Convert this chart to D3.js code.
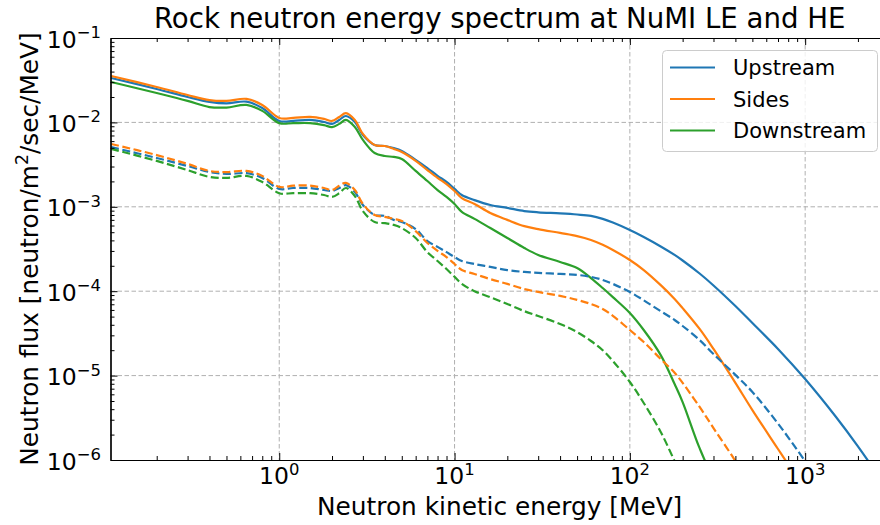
<!DOCTYPE html>
<html>
<head>
<meta charset="utf-8">
<script src="https://cdn.jsdelivr.net/npm/d3@7"></script>
<style>
  body { margin: 0; background: #fff; }
  svg { display: block; }
  text { font-family: "DejaVu Sans", sans-serif; fill: #000; }
</style>
</head>
<body>
<svg id="chart" width="880" height="525"></svg>
<script>
// Neutron kinetic energy grid [MeV]
const energies = [0.11, 0.2, 0.3, 0.4, 0.5, 0.65, 0.8,
  1.0, 1.2, 1.5, 1.8, 2.0, 2.2, 2.4, 2.7, 3.0, 3.5, 4.0, 4.5, 5, 6, 7, 8, 9,
  10, 11, 13, 16, 20, 25, 30, 40, 50, 60, 70, 80,
  100, 120, 150, 180, 200, 250, 300, 400, 500, 700,
  1000, 1500, 2000, 3000];

// Flux [neutron/m^2/sec/MeV], solid curves (HE)
const upstreamHE = [3.36e-2, 2.49e-2, 2.00e-2, 1.75e-2, 1.68e-2, 1.76e-2, 1.48e-2,
  1.04e-2, 1.04e-2, 1.07e-2, 1.01e-2, 9.6e-3, 1.07e-2, 1.19e-2, 1.01e-2, 7.1e-3, 5.4e-3, 5.25e-3, 4.97e-3, 4.6e-3, 3.6e-3, 2.88e-3, 2.33e-3, 1.97e-3,
  1.63e-3, 1.38e-3, 1.2e-3, 1.05e-3, 9.7e-4, 8.9e-4, 8.6e-4, 8.35e-4, 8.1e-4, 7.8e-4, 7.2e-4, 6.5e-4,
  5.31e-4, 4.39e-4, 3.39e-4, 2.69e-4, 2.31e-4, 1.62e-4, 1.17e-4, 6.68e-5, 4.2e-5, 2.07e-5,
  9.1e-6, 3.23e-6, 1.45e-6, 4.3e-7];
const sidesHE = [3.55e-2, 2.63e-2, 2.11e-2, 1.84e-2, 1.80e-2, 1.90e-2, 1.61e-2,
  1.13e-2, 1.13e-2, 1.16e-2, 1.10e-2, 1.04e-2, 1.16e-2, 1.29e-2, 1.07e-2, 7.3e-3, 5.4e-3, 5.25e-3, 4.85e-3, 4.45e-3, 3.5e-3, 2.72e-3, 2.2e-3, 1.86e-3,
  1.54e-3, 1.27e-3, 1.08e-3, 8.45e-4, 7.0e-4, 5.9e-4, 5.45e-4, 4.9e-4, 4.5e-4, 4.05e-4, 3.55e-4, 3.08e-4,
  2.34e-4, 1.78e-4, 1.18e-4, 8.1e-5, 6.3e-5, 3.57e-5, 2.07e-5, 8.2e-6, 3.9e-6, 1.35e-6,
  4.4e-7, 1.2e-7, null, null];
const downstreamHE = [3.01e-2, 2.23e-2, 1.80e-2, 1.52e-2, 1.50e-2, 1.61e-2, 1.37e-2,
  9.8e-3, 9.8e-3, 9.8e-3, 9.3e-3, 8.8e-3, 9.6e-3, 1.07e-2, 8.8e-3, 6.2e-3, 4.34e-3, 4.0e-3, 3.9e-3, 3.68e-3, 2.66e-3, 2.02e-3, 1.58e-3, 1.31e-3,
  1.08e-3, 8.7e-4, 7.2e-4, 5.6e-4, 4.27e-4, 3.25e-4, 2.69e-4, 2.22e-4, 1.88e-4, 1.43e-4, 1.09e-4, 8.5e-5,
  5.52e-5, 3.47e-5, 1.75e-5, 7.95e-6, 4.86e-6, 1.38e-6, 6.1e-7, 2.6e-7, null, null,
  null, null, null, null];

// Flux [neutron/m^2/sec/MeV], dashed curves (LE)
const upstreamLE = [5.1e-3, 3.79e-3, 3.04e-3, 2.58e-3, 2.45e-3, 2.5e-3, 2.2e-3,
  1.63e-3, 1.67e-3, 1.67e-3, 1.58e-3, 1.54e-3, 1.67e-3, 1.81e-3, 1.5e-3, 1.05e-3, 8.0e-4, 7.8e-4, 7.0e-4, 6.6e-4, 5.45e-4, 3.93e-4, 3.35e-4, 2.9e-4,
  2.54e-4, 2.28e-4, 2.1e-4, 1.94e-4, 1.78e-4, 1.69e-4, 1.65e-4, 1.6e-4, 1.56e-4, 1.48e-4, 1.36e-4, 1.22e-4,
  9.8e-5, 7.8e-5, 5.8e-5, 4.56e-5, 3.87e-5, 2.64e-5, 1.8e-5, 1.02e-5, 6.4e-6, 2.7e-6,
  9.7e-7, 2.9e-7, null, null];
const sidesLE = [5.55e-3, 4.1e-3, 3.22e-3, 2.66e-3, 2.58e-3, 2.66e-3, 2.32e-3,
  1.72e-3, 1.78e-3, 1.78e-3, 1.67e-3, 1.58e-3, 1.78e-3, 1.92e-3, 1.58e-3, 1.08e-3, 8.0e-4, 7.6e-4, 7.2e-4, 6.8e-4, 5.15e-4, 3.73e-4, 3.0e-4, 2.54e-4,
  2.1e-4, 1.78e-4, 1.6e-4, 1.39e-4, 1.22e-4, 1.06e-4, 9.8e-5, 8.8e-5, 7.9e-5, 7.05e-5, 6.15e-5, 5.1e-5,
  3.47e-5, 2.5e-5, 1.57e-5, 1.08e-5, 8.2e-6, 4.25e-6, 2.39e-6, 9.7e-7, 4.4e-7, null,
  null, null, null, null];
const downstreamLE = [4.85e-3, 3.5e-3, 2.72e-3, 2.26e-3, 2.2e-3, 2.32e-3, 1.97e-3,
  1.45e-3, 1.45e-3, 1.45e-3, 1.38e-3, 1.31e-3, 1.45e-3, 1.67e-3, 1.34e-3, 8.9e-4, 6.6e-4, 6.4e-4, 6.1e-4, 5.6e-4, 4.27e-4, 2.9e-4, 2.28e-4, 1.83e-4,
  1.48e-4, 1.22e-4, 1.0e-4, 8.5e-5, 7.05e-5, 5.8e-5, 5.08e-5, 4.09e-5, 3.28e-5, 2.57e-5, 2.0e-5, 1.49e-5,
  8.4e-6, 4.74e-6, 2.15e-6, 9.7e-7, 6.1e-7, null, null, null, null, null,
  null, null, null, null];

const locations = ["Upstream", "Sides", "Downstream"];
const colors = ["#1f77b4", "#ff7f0e", "#2ca02c"];
const xTickExps = [0, 1, 2, 3];
const yTickExps = [-6, -5, -4, -3, -2, -1];
const xDomain = [0.109, 3000];
const yDomain = [1e-6, 1e-1];

const title = "Rock neutron energy spectrum at NuMI LE and HE";
const xLabel = "Neutron kinetic energy [MeV]";

const series = [
  { name: "Upstream", values: upstreamHE, color: colors[0], dashed: false },
  { name: "Sides", values: sidesHE, color: colors[1], dashed: false },
  { name: "Downstream", values: downstreamHE, color: colors[2], dashed: false },
  { name: "Upstream", values: upstreamLE, color: colors[0], dashed: true },
  { name: "Sides", values: sidesLE, color: colors[1], dashed: true },
  { name: "Downstream", values: downstreamLE, color: colors[2], dashed: true }
];

const svg = d3.select("#chart");
const plot = { left: 110.5, top: 38, bottom: 460, right: 888.8 };

const x = d3.scaleLog().domain(xDomain).range([plot.left, plot.right]);
const y = d3.scaleLog().domain(yDomain).range([plot.bottom, plot.top]);

const tickFont = 23.5, labelFont = 24.8, titleFont = 27.6, legendFont = 21;

// minor tick positions: 2..9 of each decade inside the domain
function minorTicks(domain) {
  const out = [];
  const lo = Math.floor(Math.log10(domain[0])), hi = Math.ceil(Math.log10(domain[1]));
  for (let e = lo; e <= hi; e++) {
    for (let m = 2; m <= 9; m++) {
      const v = m * Math.pow(10, e);
      if (v >= domain[0] && v <= domain[1]) out.push(v);
    }
  }
  return out;
}
const xMajor = xTickExps.map(e => Math.pow(10, e));
const yMajor = yTickExps.map(e => Math.pow(10, e));
const xMinor = minorTicks(xDomain);
const yMinor = minorTicks(yDomain);

// grid
const grid = svg.append("g").attr("stroke", "#b0b0b0").attr("stroke-width", 1)
  .attr("stroke-dasharray", "4.5,2.5");
grid.selectAll("line.gx").data(xMajor).join("line")
  .attr("x1", d => x(d)).attr("x2", d => x(d))
  .attr("y1", plot.top).attr("y2", plot.bottom);
grid.selectAll("line.gy").data(yMajor.filter(v => v > yDomain[0] && v < yDomain[1])).join("line")
  .attr("x1", plot.left).attr("x2", plot.right)
  .attr("y1", d => y(d)).attr("y2", d => y(d));

// curves
svg.append("clipPath").attr("id", "clip").append("rect")
  .attr("x", plot.left).attr("y", plot.top)
  .attr("width", plot.right - plot.left).attr("height", plot.bottom - plot.top);

const line = d3.line()
  .defined(d => d[1] != null)
  .x(d => x(d[0])).y(d => y(d[1]))
  .curve(d3.curveCatmullRom.alpha(0.5));

const curves = svg.append("g").attr("clip-path", "url(#clip)");
series.forEach(s => {
  const pts = energies.map((e, i) => [e, s.values[i]]);
  curves.append("path")
    .datum(pts)
    .attr("d", line)
    .attr("fill", "none")
    .attr("stroke", s.color)
    .attr("stroke-width", 2.2)
    .attr("stroke-linejoin", "round")
    .attr("stroke-dasharray", s.dashed ? "8,3.5" : null);
});

// axes with inward ticks on all four sides
function styleAxis(g) {
  g.select(".domain").attr("stroke", "#000").attr("stroke-width", 1.2);
  g.selectAll(".tick line").attr("stroke", "#000").attr("stroke-width", 1);
  g.selectAll(".tick text").remove();
}
const majorLen = 7, minorLen = 4;
[[d3.axisBottom, plot.bottom], [d3.axisTop, plot.top]].forEach(([ax, pos]) => {
  svg.append("g").attr("transform", `translate(0,${pos})`)
    .call(ax(x).tickValues(xMinor).tickSize(-minorLen).tickSizeOuter(0)).call(styleAxis);
  svg.append("g").attr("transform", `translate(0,${pos})`)
    .call(ax(x).tickValues(xMajor).tickSize(-majorLen).tickSizeOuter(0)).call(styleAxis);
});
[[d3.axisLeft, plot.left], [d3.axisRight, plot.right]].forEach(([ax, pos]) => {
  svg.append("g").attr("transform", `translate(${pos},0)`)
    .call(ax(y).tickValues(yMinor).tickSize(-minorLen).tickSizeOuter(0)).call(styleAxis);
  svg.append("g").attr("transform", `translate(${pos},0)`)
    .call(ax(y).tickValues(yMajor).tickSize(-majorLen).tickSizeOuter(0)).call(styleAxis);
});

// power-of-ten tick labels
function powerLabel(sel, exp, fs) {
  sel.append("tspan").text("10");
  sel.append("tspan")
    .attr("font-size", fs * 0.7)
    .attr("dy", -0.4 * fs)
    .text(exp < 0 ? "\u2212" + (-exp) : String(exp));
}
xTickExps.forEach(e => {
  const t = svg.append("text")
    .attr("x", x(Math.pow(10, e)))
    .attr("y", plot.bottom + 24)
    .attr("text-anchor", "middle")
    .attr("font-size", tickFont);
  powerLabel(t, e, tickFont);
});
yTickExps.forEach(e => {
  const t = svg.append("text")
    .attr("x", 101)
    .attr("y", y(Math.pow(10, e)) + 9.5)
    .attr("text-anchor", "end")
    .attr("font-size", tickFont);
  powerLabel(t, e, tickFont);
});

// axis labels and title
svg.append("text")
  .attr("x", (plot.left + plot.right) / 2)
  .attr("y", 515)
  .attr("text-anchor", "middle")
  .attr("font-size", labelFont)
  .text(xLabel);

const yl = svg.append("text")
  .attr("transform", `translate(38,${(plot.top + plot.bottom) / 2}) rotate(-90)`)
  .attr("text-anchor", "middle")
  .attr("font-size", labelFont);
yl.append("tspan").text("Neutron flux [neutron/m");
yl.append("tspan").attr("font-size", labelFont * 0.7).attr("dy", -0.42 * labelFont).text("2");
yl.append("tspan").attr("dy", 0.42 * labelFont).text("/sec/MeV]");

svg.append("text")
  .attr("x", (plot.left + plot.right) / 2)
  .attr("y", 28)
  .attr("text-anchor", "middle")
  .attr("font-size", titleFont)
  .text(title);

// legend
const legend = svg.append("g");
legend.append("rect")
  .attr("x", 662.5).attr("y", 50.5).attr("width", 215).attr("height", 101)
  .attr("rx", 4).attr("ry", 4)
  .attr("fill", "#fff").attr("fill-opacity", 0.8)
  .attr("stroke", "#cccccc").attr("stroke-width", 1);
locations.forEach((name, i) => {
  const cy = 67.5 + i * 31.5;
  legend.append("line")
    .attr("x1", 670).attr("x2", 715).attr("y1", cy).attr("y2", cy)
    .attr("stroke", colors[i]).attr("stroke-width", 2.2);
  legend.append("text")
    .attr("x", 733).attr("y", cy + 7.5)
    .attr("font-size", legendFont)
    .text(name);
});
</script>
</body>
</html>
